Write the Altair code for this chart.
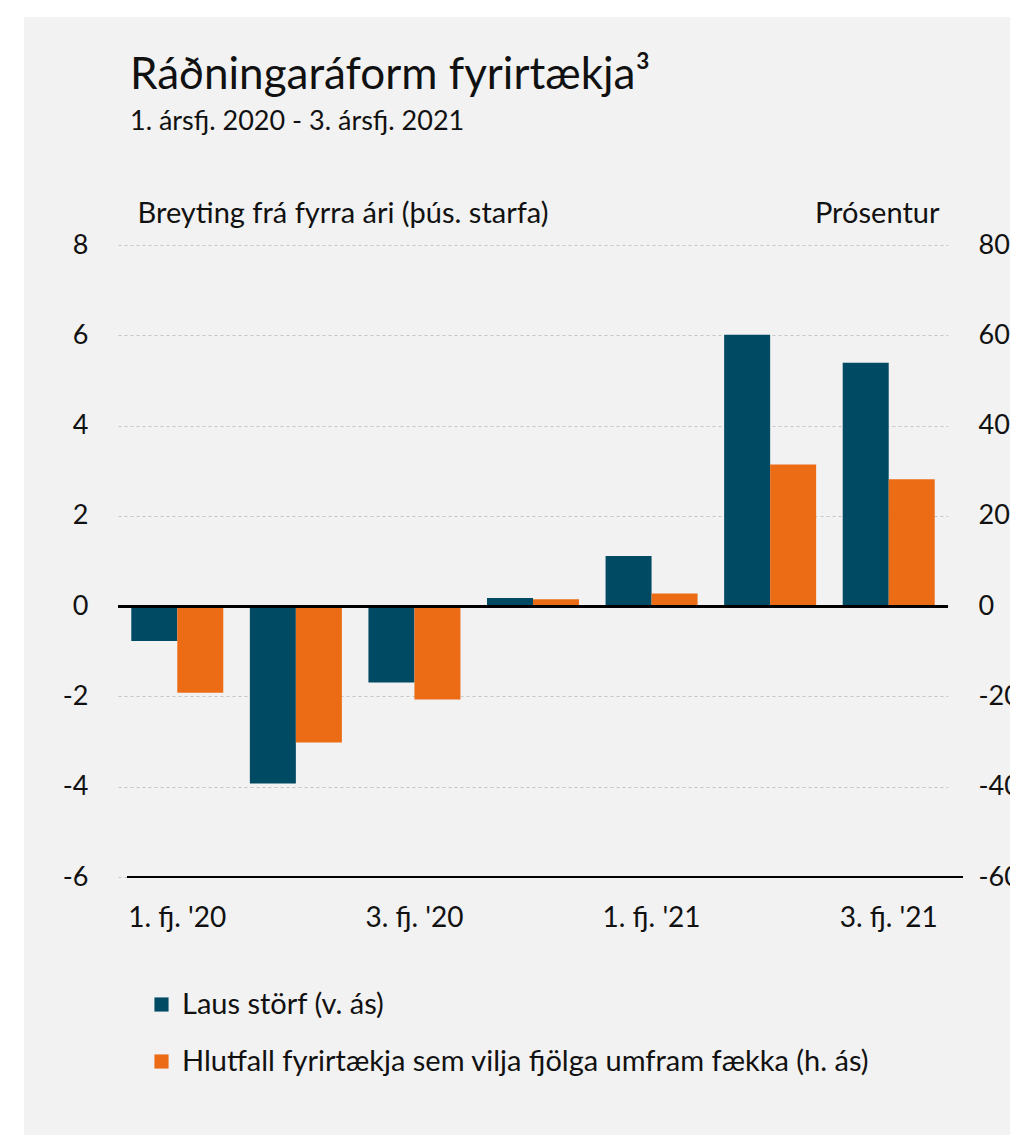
import altair as alt
import pandas as pd

categories = ["1. fj. '20", "2. fj. '20", "3. fj. '20", "4. fj. '20",
              "1. fj. '21", "2. fj. '21", "3. fj. '21"]
series_names = ["Laus störf (v. ás)",
                "Hlutfall fyrirtækja sem vilja fjölga umfram fækka (h. ás)"]
laus_storf = [-0.77, -3.93, -1.69, 0.18, 1.11, 6.01, 5.39]
hlutfall = [-19.2, -30.2, -20.7, 1.5, 2.8, 31.4, 28.1]
left_ticks = [-6, -4, -2, 0, 2, 4, 6, 8]
right_ticks = [-60, -40, -20, 0, 20, 40, 60, 80]
colors = ["#004a63", "#ec6b15"]

FONT = "Lato"
TXT = "#111111"
BG = "#f2f2f2"
TICK_FS = 27
TITLE_FS = 29

df_l = pd.DataFrame({"cat": categories, "series": series_names[0], "val": laus_storf})
df_r = pd.DataFrame({"cat": categories, "series": series_names[1], "val": hlutfall})

W, H = 830, 632
PL, PT, PR, PB = 110, 237, 62, 258

x_enc = alt.X("cat:N", sort=categories,
              scale=alt.Scale(domain=categories, paddingInner=0.224, paddingOuter=0.112),
              axis=alt.Axis(title=None, domain=False, ticks=False, tickSize=0, labelAngle=0,
                            labelPadding=27, labelFontSize=28, labelFont=FONT, labelColor=TXT,
                            labelExpr="(substring(datum.label,0,1) == '2' || substring(datum.label,0,1) == '4') ? '' : datum.label"))
xoff = alt.XOffset("series:N", scale=alt.Scale(domain=series_names, paddingInner=0, paddingOuter=0))
color_enc = alt.Color("series:N", scale=alt.Scale(domain=series_names, range=colors),
                      legend=alt.Legend(title=None, orient="none", legendX=29, legendY=745,
                                        direction="vertical", symbolType="square", symbolSize=200,
                                        symbolStrokeWidth=0, labelFontSize=TITLE_FS, labelFont=FONT,
                                        labelColor=TXT, rowPadding=27, labelOffset=6, padding=0,
                                        labelLimit=900))

# white page margin strips (the grey card starts a little inside the page)
strip_left = alt.Chart(df_l).mark_rect(color="white").encode(
    x=alt.value(-PL), x2=alt.value(-94), y=alt.value(-PT), y2=alt.value(H + PB))
strip_top = alt.Chart(df_l).mark_rect(color="white").encode(
    x=alt.value(-PL), x2=alt.value(W + PR), y=alt.value(-PT), y2=alt.value(-228))

left_bars = alt.Chart(df_l).mark_bar().encode(
    x=x_enc, xOffset=xoff, color=color_enc,
    y=alt.Y("val:Q", scale=alt.Scale(domain=[-6, 8], nice=False),
            axis=alt.Axis(values=left_ticks, grid=True, gridDash=[3, 3], gridColor="#c6c6c6",
                          gridWidth=1, domain=False, ticks=False, tickSize=0, labelPadding=30,
                          labelFontSize=TICK_FS, labelFont=FONT, labelColor=TXT,
                          labelExpr="'' + datum.value",
                          title="Breyting frá fyrra ári (þús. starfa)", titleAngle=0,
                          titleAlign="left", titleBaseline="alphabetic", titleX=19, titleY=-23,
                          titleFontSize=TITLE_FS, titleFont=FONT, titleFontWeight="normal",
                          titleColor=TXT)))

bottom_rule = alt.Chart(df_l).mark_rule(color="black", strokeWidth=2).encode(
    y=alt.value(H), x=alt.value(9), x2=alt.value(845))

right_bars = alt.Chart(df_r).mark_bar().encode(
    x=x_enc, xOffset=xoff, color=color_enc,
    y=alt.Y("val:Q", scale=alt.Scale(domain=[-60, 80], nice=False),
            axis=alt.Axis(orient="right", values=right_ticks, grid=False, domain=False,
                          ticks=False, tickSize=0, labelPadding=30, labelAlign="left",
                          labelFontSize=TICK_FS, labelFont=FONT, labelColor=TXT,
                          labelExpr="'' + datum.value",
                          title="Prósentur", titleAngle=0, titleAlign="right",
                          titleBaseline="alphabetic", titleX=-9, titleY=-23,
                          titleFontSize=TITLE_FS, titleFont=FONT, titleFontWeight="normal",
                          titleColor=TXT)))

zero_rule = alt.Chart(df_l).mark_rule(color="black", strokeWidth=2.5).encode(
    y=alt.datum(0, scale=alt.Scale(domain=[-6, 8], nice=False), axis=None),
    x=alt.value(0), x2=alt.value(W))

inner = alt.layer(strip_left, strip_top, left_bars, bottom_rule)
chart = alt.layer(inner, right_bars, zero_rule).resolve_scale(y="independent").properties(
    width=W, height=H,
    background=BG,
    title=alt.TitleParams(text="Ráðningaráform fyrirtækja³",
                          subtitle="1. ársfj. 2020 - 3. ársfj. 2021",
                          anchor="start", frame="group", dx=12, dy=127, offset=0,
                          font=FONT, fontSize=44, fontWeight="normal", color=TXT,
                          subtitleFont=FONT, subtitleFontSize=27, subtitleColor=TXT,
                          subtitlePadding=11),
    autosize=alt.AutoSizeParams(type="none"),
    padding={"left": PL, "top": PT, "right": PR, "bottom": PB},
).configure_view(stroke=None)

chart.save("out.html", embed_options={"renderer": "svg", "actions": False})
